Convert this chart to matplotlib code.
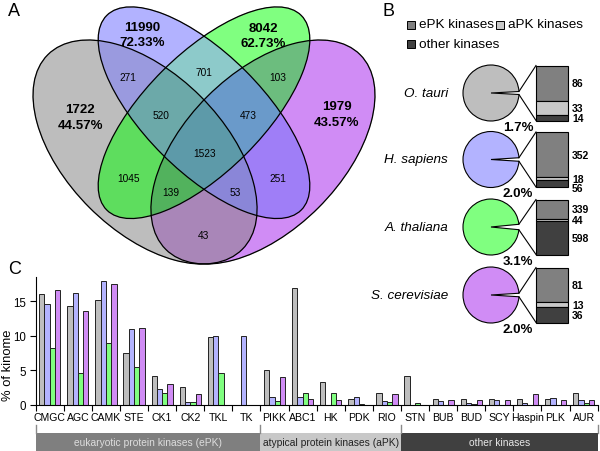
import numpy as np
import matplotlib
matplotlib.use("Agg")
import matplotlib.pyplot as plt
from matplotlib.patches import Ellipse, Wedge, Rectangle
from matplotlib.transforms import blended_transform_factory

plt.rcParams['font.family'] = ['Liberation Sans', 'DejaVu Sans']

# ---------------- data ----------------
species = ['O. tauri', 'H. sapiens', 'A. thaliana', 'S. cerevisiae']
sp_colors = ['#BEBEBE', '#B3B3FF', '#80FF80', '#D08CF5']

# A: venn
venn_totals = [1722, 11990, 8042, 1979]
venn_pcts = ['44.57%', '72.33%', '62.73%', '43.57%']
# membership bits: 1 gray, 2 blue, 4 green, 8 purple
region_sets = [3, 6, 12, 7, 14, 15, 5, 10, 13, 11, 9]
region_counts = [271, 701, 103, 520, 473, 1523, 1045, 251, 139, 53, 43]

# B: kinome share and composition
kinome_pct = [1.7, 2.0, 3.1, 2.0]
epk = [86, 352, 339, 81]
apk = [33, 18, 44, 13]
other = [14, 56, 598, 36]

# C: % of kinome per family
families = ['CMGC', 'AGC', 'CAMK', 'STE', 'CK1', 'CK2', 'TKL', 'TK', 'PIKK', 'ABC1',
            'HK', 'PDK', 'RIO', 'STN', 'BUB', 'BUD', 'SCY', 'Haspin', 'PLK', 'AUR']
o_tauri = [16.1, 14.3, 15.2, 7.6, 4.2, 2.6, 9.8, 0, 5.1, 16.9,
           3.4, 0.9, 1.7, 4.2, 0.8, 0.8, 0.8, 0.8, 0.8, 1.7]
h_sapiens = [14.6, 16.2, 17.9, 11.0, 2.3, 0.5, 10.0, 10.0, 1.2, 1.1,
             0, 1.1, 0.6, 0, 0.55, 0.3, 0.7, 0.3, 1.0, 0.7]
a_thaliana = [8.3, 4.7, 9.0, 5.5, 1.8, 0.4, 4.7, 0, 0.6, 1.7,
              1.7, 0.15, 0.4, 0.25, 0, 0.1, 0.05, 0.05, 0.05, 0.25]
s_cerevisiae = [16.7, 13.6, 17.6, 11.1, 3.1, 1.6, 0, 0, 4.0, 0.8,
                0.7, 0, 1.6, 0, 0.7, 0.7, 0.7, 1.6, 0.7, 0.7]
class_names = ['eukaryotic protein kinases (ePK)', 'atypical protein kinases (aPK)', 'other kinases']
class_bounds = [0, 8, 13, 20]

# ---------------- figure ----------------
fig = plt.figure(figsize=(6, 4.52), dpi=100)
ov = fig.add_axes([0, 0, 1, 1])
ov.axis('off')

# ---- A: four-ellipse venn (pixel coords, y down) ----
S = 393.0
def vx(u):
    return 204 + (u - 0.5) * S
def vy(v):
    return 8 + (0.839 - v) * S

ellipses = [(vx(0.35), vy(0.47), 0.35 * S, 0.20 * S, 45),
            (vx(0.50), vy(0.57), 0.35 * S, 0.15 * S, 45),
            (vx(0.50), vy(0.57), 0.35 * S, 0.15 * S, -45),
            (vx(0.65), vy(0.47), 0.35 * S, 0.20 * S, -45)]

region_color = {1: '#BEBEBE', 2: '#B3B3FF', 4: '#80FF80', 8: '#D08CF5',
                3: '#9A9ADF', 6: '#8DCACA', 12: '#6DBE7E', 5: '#5FDD5F',
                10: '#A07EF8', 9: '#A986B9', 7: '#6CA9AA', 14: '#6A9ACA',
                13: '#52B35E', 11: '#8A86D8', 15: '#5E9BA9'}

step = 0.5
xs = np.arange(0, 400, step) + step / 2
ys = np.arange(0, 280, step) + step / 2
X, Y = np.meshgrid(xs, ys)
mask = np.zeros(X.shape, dtype=int)
for k, (cx, cy, a, b, ang) in enumerate(ellipses):
    t = np.deg2rad(ang)
    dx, dy = X - cx, Y - cy
    u = dx * np.cos(t) + dy * np.sin(t)
    v = -dx * np.sin(t) + dy * np.cos(t)
    mask[(u / a) ** 2 + (v / b) ** 2 <= 1] += 1 << k
rgba = np.zeros(X.shape + (4,))
for key, col in region_color.items():
    rgba[mask == key] = matplotlib.colors.to_rgba(col)
ov.imshow(rgba, extent=(0, 400, 280, 0), interpolation='bilinear', zorder=1)
for (cx, cy, a, b, ang) in ellipses:
    ov.add_patch(Ellipse((cx, cy), 2 * a, 2 * b, angle=ang, fill=False,
                         ec='black', lw=0.9, zorder=2))

total_xy = [(80, 118), (142, 35.5), (263, 36.5), (337, 115)]
for (x, y), n, p in zip(total_xy, venn_totals, venn_pcts):
    ov.text(x, y, f'{n}\n{p}', ha='center', va='center', fontsize=9.5,
            fontweight='bold', linespacing=1.35, zorder=3)
region_xy = [(128, 78), (204, 73), (278, 78), (161, 116), (248, 116), (205, 154),
             (129, 179), (278, 179), (171, 193), (235, 193), (204, 236)]
for (x, y), n in zip(region_xy, region_counts):
    ov.text(x, y, str(n), ha='center', va='center', fontsize=7.3, zorder=3)

# ---- B: pies with exploded composition bars ----
leg_cols = ['#808080', '#C8C8C8', '#404040']
leg_items = [('ePK kinases', 407, 25.5), ('aPK kinases', 496, 25.5), ('other kinases', 407, 45)]
for (lab, x, y), c in zip(leg_items, leg_cols):
    ov.add_patch(Rectangle((x, y - 4), 8, 8, fc=c, ec='black', lw=0.7))
    ov.text(x + 12, y, lab, ha='left', va='center', fontsize=9.7)

pie_cx, pie_r = 491, 28
pie_cy = [94, 160.5, 228, 296]
bar_x, bar_w, bar_h = 536, 32, 55
for i in range(4):
    cy = pie_cy[i]
    half = kinome_pct[i] / 100 * 360 / 2
    ov.add_patch(Wedge((pie_cx, cy), pie_r, half, 360 - half, fc=sp_colors[i],
                       ec='black', lw=0.8))
    top = cy - bar_h / 2
    bot = cy + bar_h / 2
    tx = pie_cx + pie_r * np.cos(np.deg2rad(half))
    ty = pie_r * np.sin(np.deg2rad(half))
    ov.plot([tx, bar_x], [cy - ty, top], color='black', lw=0.8)
    ov.plot([tx, bar_x], [cy + ty, bot], color='black', lw=0.8)
    vals = [epk[i], apk[i], other[i]]
    tot = sum(vals)
    y0 = top
    label_y = []
    for v, c in zip(vals, leg_cols):
        h = v / tot * bar_h
        ov.add_patch(Rectangle((bar_x, y0), bar_w, h, fc=c, ec='black', lw=0.8))
        label_y.append(y0 + h / 2)
        y0 += h
    for j in range(1, 3):
        label_y[j] = max(label_y[j], label_y[j - 1] + 9)
    for v, ly in zip(vals, label_y):
        ov.text(bar_x + bar_w + 4, ly, str(v), ha='left', va='center',
                fontsize=7.5, fontweight='bold')
    ov.text(448, cy, species[i], ha='right', va='center', fontsize=9.7, style='italic')
    ov.text(518, cy + 34, f'{kinome_pct[i]:.1f}%', ha='center', va='center',
            fontsize=9.5, fontweight='bold')

# ---- C: grouped bars ----
ax = fig.add_axes([35.7 / 600, 46 / 452, 562 / 600, 128 / 452])
ax.patch.set_visible(False)
pitch, gap = 5.3, 0.65
idx = np.arange(len(families))
series = [o_tauri, h_sapiens, a_thaliana, s_cerevisiae]
for j, vals in enumerate(series):
    ax.bar(idx * pitch + gap + j + 0.5, vals, width=1, color=sp_colors[j],
           edgecolor='#222222', linewidth=0.7)
ax.set_xlim(0, len(families) * pitch)
ax.set_ylim(0, 18.55)
ax.set_yticks([0, 5, 10, 15])
ax.set_xticks(idx * pitch + pitch / 2)
ax.set_xticklabels(families)
ax.set_xticks(np.arange(len(families) + 1) * pitch, minor=True)
ax.tick_params(axis='x', which='major', length=0, pad=5, labelsize=7.6)
ax.tick_params(axis='x', which='minor', length=4, width=0.8)
ax.tick_params(axis='y', length=4, width=0.8, pad=3, labelsize=8.3)
for s in ['top', 'right']:
    ax.spines[s].set_visible(False)
for s in ['left', 'bottom']:
    ax.spines[s].set_linewidth(0.8)

ov.set_xlim(0, 600)
ov.set_ylim(452, 0)
ov.set_aspect('auto')

trans = blended_transform_factory(ax.transData, ov.transData)
band_fc = ['#7F7F7F', '#C8C8C8', '#404040']
band_tc = ['#DDDDDD', '#222222', '#E8E8E8']
for k in range(3):
    x0 = class_bounds[k] * pitch
    x1 = class_bounds[k + 1] * pitch
    ov.add_patch(Rectangle((x0, 434), x1 - x0, 18, transform=trans,
                           fc=band_fc[k], ec='none', clip_on=False))
    ov.text((x0 + x1) / 2, 443.5, class_names[k], transform=trans, ha='center',
            va='center', fontsize=7.4, color=band_tc[k])
for bnd in class_bounds:
    ov.plot([bnd * pitch, bnd * pitch], [426, 434], transform=trans,
            color='#8A8A8A', lw=1, clip_on=False)

ov.text(8, 365, '% of kinome', rotation=90, ha='center', va='center', fontsize=9.4)

for lab, x, y in [('A', 8, 3), ('B', 383, 3), ('C', 8, 261)]:
    ov.text(x, y, lab, ha='left', va='top', fontsize=13)

fig.savefig('out.png', dpi=100)
